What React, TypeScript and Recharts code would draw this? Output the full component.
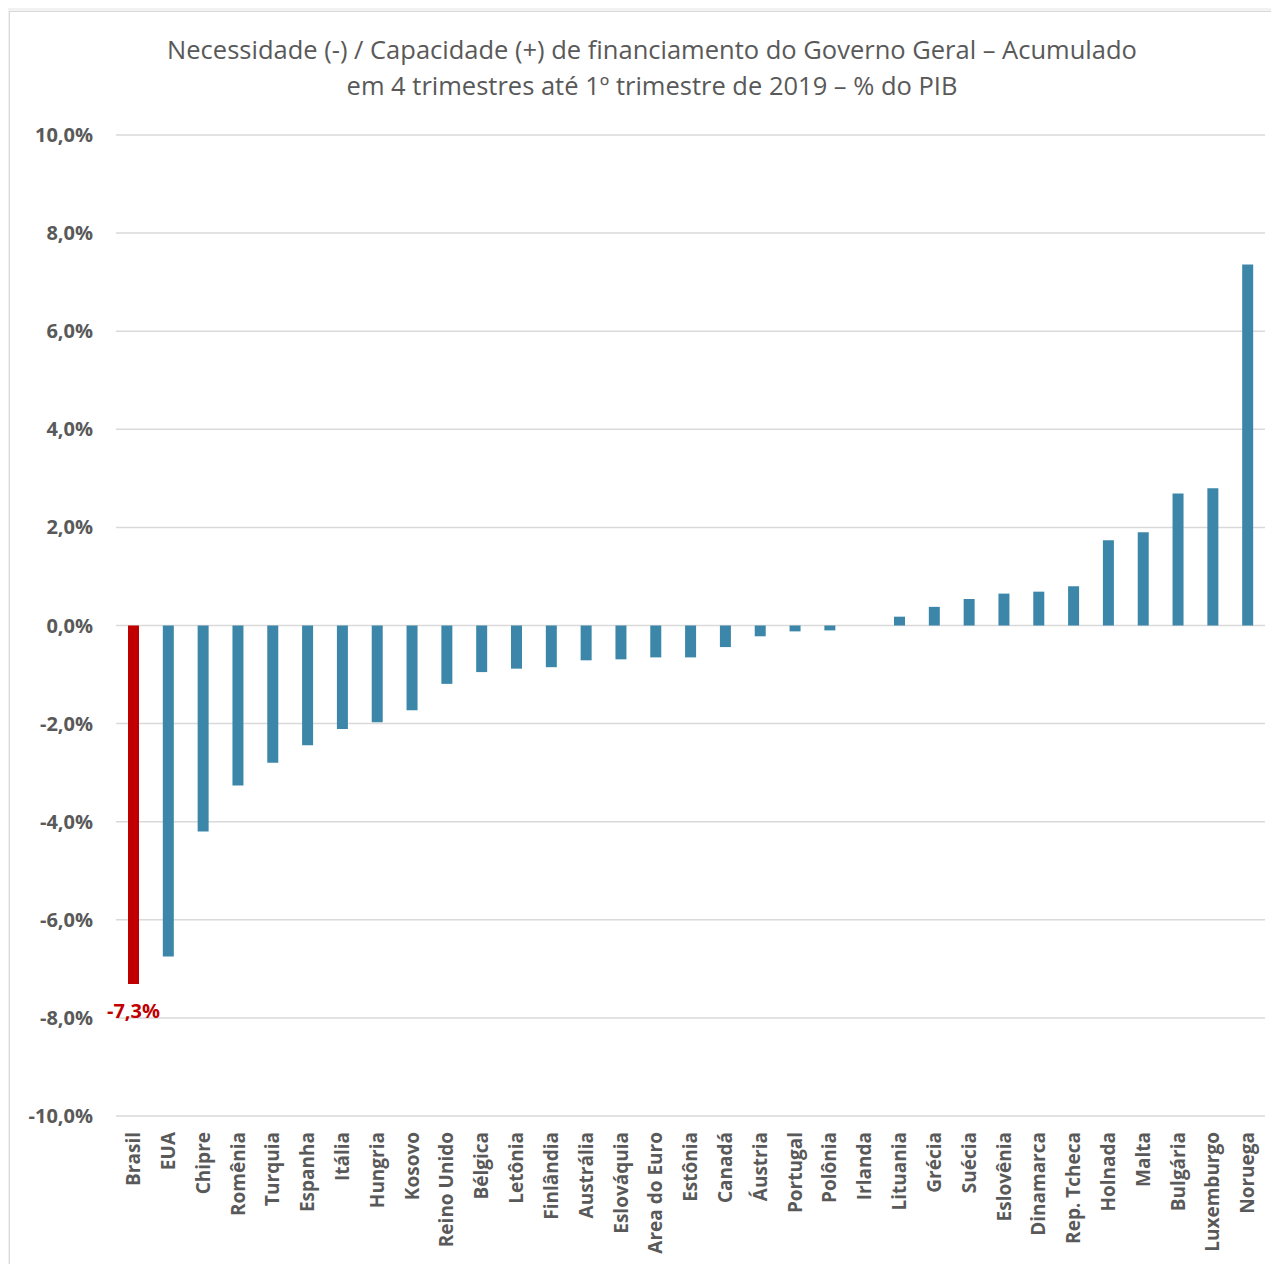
import React from 'react'
import { BarChart, Bar, XAxis, YAxis, CartesianGrid, Cell, LabelList } from 'recharts'

const countries = [
  'Brasil', 'EUA', 'Chipre', 'Romênia', 'Turquia', 'Espanha', 'Itália', 'Hungria', 'Kosovo',
  'Reino Unido', 'Bélgica', 'Letônia', 'Finlândia', 'Austrália', 'Eslováquia', 'Area do Euro',
  'Estônia', 'Canadá', 'Áustria', 'Portugal', 'Polônia', 'Irlanda', 'Lituania', 'Grécia',
  'Suécia', 'Eslovênia', 'Dinamarca', 'Rep. Tcheca', 'Holnada', 'Malta', 'Bulgária',
  'Luxemburgo', 'Noruega',
]

const balance = [
  -7.31, -6.75, -4.2, -3.26, -2.8, -2.44, -2.11, -1.97, -1.73,
  -1.19, -0.95, -0.88, -0.85, -0.71, -0.69, -0.65,
  -0.65, -0.44, -0.22, -0.12, -0.1, 0, 0.18, 0.38,
  0.54, 0.65, 0.69, 0.8, 1.74, 1.9, 2.69,
  2.8, 7.36,
]

const yTicks = [-10, -8, -6, -4, -2, 0, 2, 4, 6, 8, 10]

const highlight = 'Brasil'

const data = countries.map((name, i) => ({ name, value: balance[i] }))

const fmt = (v: number) => v.toFixed(1).replace('.', ',') + '%'

const font = '"Open Sans", sans-serif'
const grey = '#595959'

const YTick = ({ x, y, payload }: any) => (
  <text x={x - 15} y={y} dy="0.35em" textAnchor="end" fill={grey} fontFamily={font} fontSize={20} fontWeight={700}>
    {fmt(payload.value)}
  </text>
)

const XTick = ({ x, y, payload }: any) => (
  <g transform={`translate(${x},${y + 8})`}>
    <text transform="rotate(-90)" textAnchor="end" dy="0.35em" fill={grey} fontFamily={font} fontSize={19} fontWeight={700}>
      {payload.value}
    </text>
  </g>
)

const BrasilLabel = (props: any) => {
  const { x, y, width, height, index, value } = props
  if (countries[index] !== highlight) return null
  const bottom = Math.max(y, y + height)
  return (
    <text x={x + width / 2} y={bottom + 34} textAnchor="middle" fill="#C00000" fontFamily={font} fontSize={20} fontWeight={700}>
      {fmt(value)}
    </text>
  )
}

export default function App() {
  return (
    <div style={{ position: 'relative', width: 1279, height: 1272, margin: -8, background: '#f2f2f2', overflow: 'hidden' }}>
      <div style={{ position: 'absolute', left: 9, top: 11, width: 1300, height: 1300, background: '#fff', border: '1px solid #d9d9d9' }} />
      <div
        style={{
          position: 'absolute', left: 0, top: 31, width: 1304, textAlign: 'center',
          fontFamily: font, fontSize: 25.5, lineHeight: '36px', color: grey,
        }}
      >
        Necessidade (-) / Capacidade (+) de financiamento do Governo Geral – Acumulado
        <br />
        em 4 trimestres até 1º trimestre de 2019 – % do PIB
      </div>
      <div style={{ position: 'absolute', left: 9, top: 11 }}>
        <BarChart width={1270} height={1261} data={data} margin={{ top: 124, right: 14, bottom: 0, left: 0 }}>
          <CartesianGrid vertical={false} stroke="#d9d9d9" strokeWidth={1.5} />
          <XAxis dataKey="name" interval={0} height={156} axisLine={false} tickLine={false} tick={<XTick />} />
          <YAxis
            width={107}
            domain={[-10, 10]}
            ticks={yTicks}
            axisLine={false}
            tickLine={false}
            tick={<YTick />}
          />
          <Bar dataKey="value" barSize={11} isAnimationActive={false}>
            {data.map((d) => (
              <Cell key={d.name} fill={d.name === highlight ? '#C00000' : '#3C87A9'} />
            ))}
            <LabelList dataKey="value" content={<BrasilLabel />} />
          </Bar>
        </BarChart>
      </div>
    </div>
  )
}
